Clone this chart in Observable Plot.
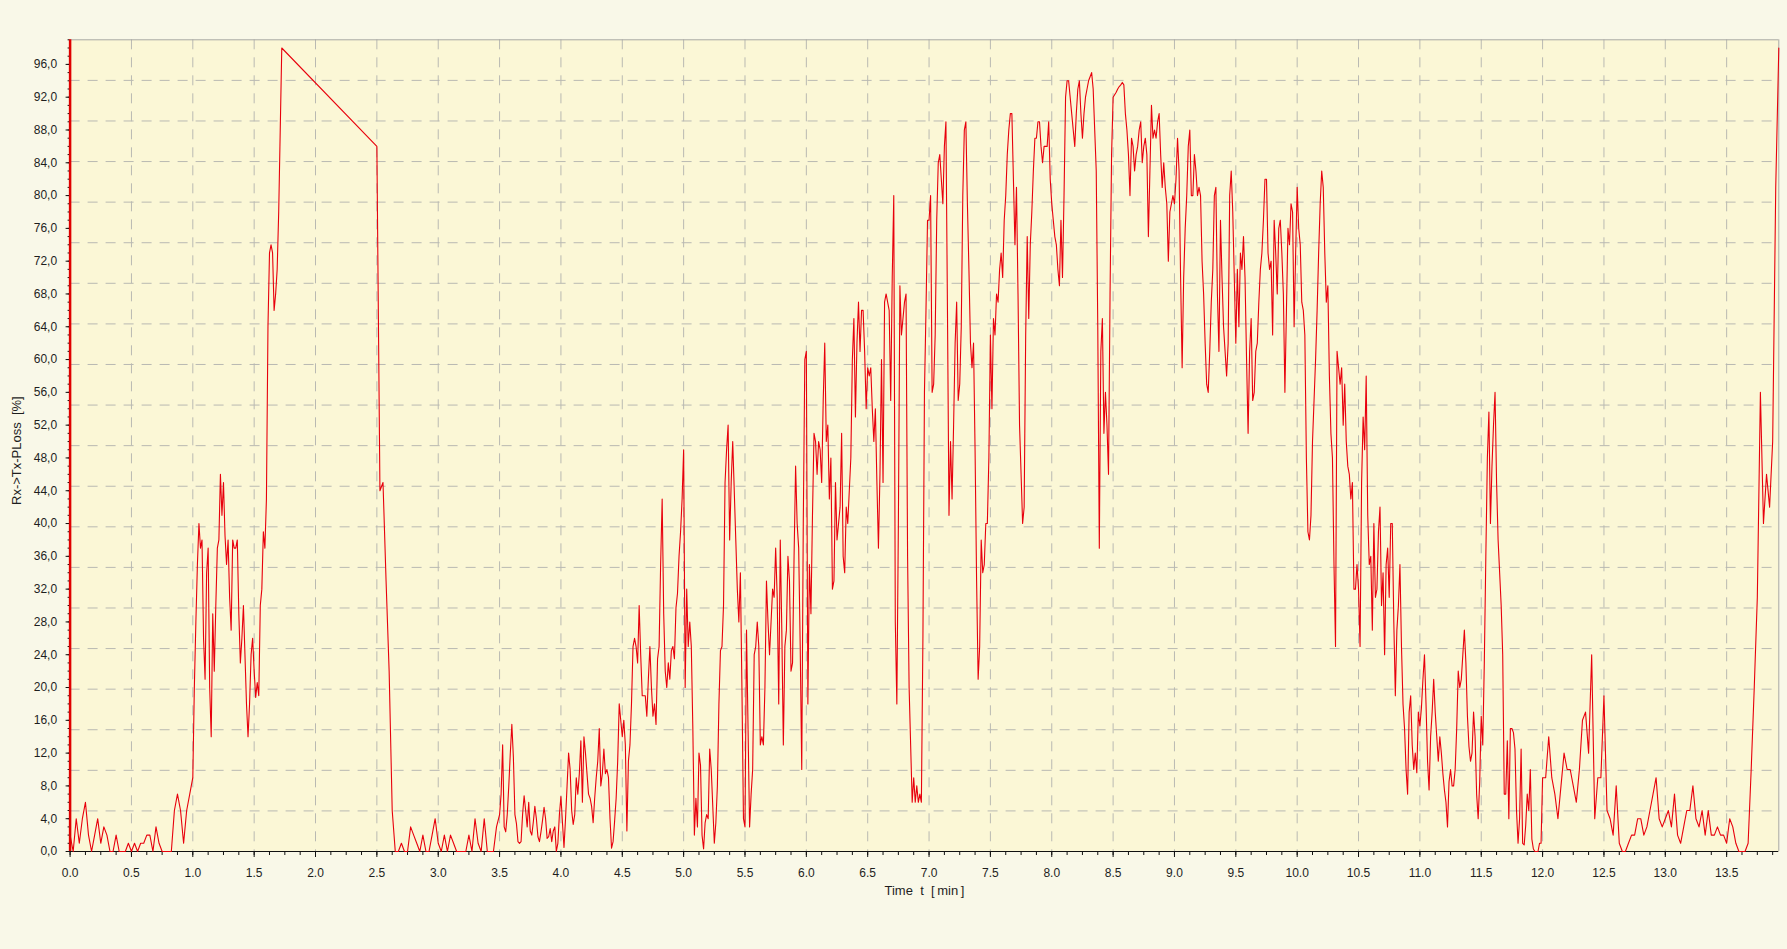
<!DOCTYPE html>
<html>
<head>
<meta charset="utf-8">
<script src="https://cdn.jsdelivr.net/npm/d3@7"></script>
<script src="https://cdn.jsdelivr.net/npm/@observablehq/plot@0.6"></script>
<style>
  html, body { margin: 0; padding: 0; background: #f9f8e8; }
  #chart { width: 1787px; height: 949px; }
</style>
</head>
<body>
<div id="chart"></div>
<script>
// ---- data: Rx->Tx-PLoss in %, read off the reference; each block is sampled at a fixed step (min) ----
// block A: 0.000 - 0.975, step 0.025
const lossA = [
  2,0,4,1,4,6,2,0,2,4,1,3,2,0,0,2,0,0,0,1,
  0,1,0,1,1,2,2,0,3,1,0,0,0,0,5,7,5,1,5,7
];
// block B: 1.000 - 1.725, step 0.0125
const lossB = [
  9,20,28,35,40,37,38,26,21,34,
  37,20,14,29,22,30,37,38,46,41,
  45,38.5,35,38,31,27,38,37,37,38,
  29,23,26,30,24,18,14,18,24,26,
  22,18.8,20.6,19,30,32,39,37,43,64,
  73,74,73,66,68,71,78,88,98
];
// (no samples between 1.725 and 2.5)
// block C: 2.500 - 3.475, step 0.025
const lossC = [
  86,44,45,33,22,5,0,0,1,0,0,3,2,1,0,2,0,0,2,4,
  1,0,2,0,2,1,0,0,0,0,2,0,4,1,0,4,0,0,0,3
];
// block D: 3.500 - 11.9875, step 0.0125
const lossD = [
  // 3.5
  4.5,7,13,3,2.4,4.5,8,12,15.5,11.5, 4.5,3.4,1.2,1,1.2,4.5,6.8,5,3,6,
  2.5,2,3.6,5.5,4,1.8,1.2,2.4,3.8,5.4, 4,1.6,1.8,2.8,1.2,2.5,3,0,1,4.5,
  // 4.0
  6.7,3.5,0.5,4,8,12,10,5,3.3,4.5, 9,7,9.5,13.5,6,14,12,9.5,7,6.5,
  5.5,3.5,6.5,9,11,15,8,9.5,12.5,9.5, 10,9,4,0.4,1.2,3.7,6.5,11,18,16,
  // 4.5
  14,16,13,2.5,11,13,18,25,26,25, 23,30,24,19,19,19,16.5,21,25,20,
  16.5,18,15.5,23.5,25,35,43,29,22,20, 23,21,24.5,25,23.5,29.7,31.5,36,39,43,
  // 5.0
  49,20,32,25,28,25,15,2,6.5,3, 12,10.5,2,0.3,3.5,4.5,4,12.5,10,5.5,
  1,3.5,8,18,24.5,25,30,45,49,52, 38,45,50,44,38,32,28,34,20,4,
  // 5.5
  3,27,15,3,7,10,24,25,28,25, 13,14,13,20,33,28,24,28,32,31,
  37,31,18,38,27,13,25,27,36,33, 22,23,36,47,40,37,25,10,40,60,
  // 6.0
  61,18,35,29,41,51,50,46,50,49, 45,55,62,50,52,43,48,32,33,45,
  38,40,42,51,36,34,42,40,44,48, 60,65,53,62,67,61,66,66,61,54,
  // 6.5
  59,58,59,54,50,54,45,37,46,60, 45,67,68,67,66,55,70,80,28,18,
  40,69,63,65,67,68,36,20,13,6, 9,6,8,6,7,6,26,56,66,77,
  // 7.0
  77,80,56,57,63,77,84,85,82,79, 86,89,66,41,50,43,52,62,67,55,
  57,64,80,88,89,79,71,62,59,62, 49,33,21,25,38,34,35,40,40,48,
  // 7.5
  63,54,65,63,68,67,71,73,70,77, 80,85,88,90,90,82,74,81,68,52,
  46,40,42,63,75,65,74,78,83,87, 87,89,89,86,84,86,86,86,89,82,
  // 8.0
  79,77,75,74,71,69,77,70,80,92, 94,94,92,90,88,86,90,93,94,90,
  87,90,92,93,94,94.5,95,93,88,83, 64,37,61,65,51,56,52,46,68,85,
  // 8.5
  92,92.3,92.6,93,93.3,93.5,93.8,93.5,90,88, 85,80,87,86,83,85,86,88,89,84,
  86,87,85,75,83,91,87,88,87,89, 90,85,81,84,81,79,72,78,79,80,
  // 9.0
  79,82,87,83,70,59,70,76,80,86, 88,80,80,85,83,80,81,80,72,68,
  62,57,56,61,67,71,80,81,68,61, 77,70,64,61,58,62,80,83,78,70,
  // 9.5
  62,71,64,73,71,75,70,60,51,61, 65,55,56,61,62,67,71,73,77,82,
  82,73,71,72,63,77,73,68,76,77, 73,68,56,66,76,74,79,78,64,73,
  // 10.0
  81,76,74,67,66,63,48,39,38,41, 50,55,60,66,73,79,83,81,73,67,
  69,58,51,48,35,25,61,59,57,59, 52,57,50,47,46,43,45,32,32,35,
  // 10.5
  32,25,45,53,49,58,41,35,36,27, 40,31,32,39,42,30,34,24,35,37,
  31,40,40,28,19,27,30,35,25,18, 15,10,7,17,19,13,10,12,9.6,17,
  // 11.0
  15.3,17.5,21,24,18,11,7.5,14,17,21, 17,14,11,14,12,9.5,7.5,6,3,8.5,
  10,8,8,10,15,22,20,21,24,27, 23,16.5,12.8,11,12,17,14,7,4,8.5,
  // 11.5
  16.5,13,23,36,48,53.6,40,47,52,56, 45,38,34,30,24,7,7,13.5,4,15,
  15,14.5,12.5,5,1,4,12.5,1,0.8,3.2, 7,5,10,1.5,0.3,0,0,0,1,1
];
// block E: 12.000 - 13.925, step 0.025
const lossE = [
  9,9,14,9,7,4,8,12,10,10,8,6,10,16,17,12,24,4,9,9,
  19,5,4,2,8,1,0,0,1,2,2,4,4,2,3,5,7,9,4,3,
  4,5,3,7,2,1,3,5,5,8,4,3,5,2,5,2,2,3,2,2,
  1,4,3,1,0,0,0,1,10,20,31,56,40,46,42,50,81,98
];
const blockStarts = [0, 1.0, 2.5, 3.5, 12.0];
const blockSteps  = [0.025, 0.0125, 0.025, 0.0125, 0.025];

const yTickValues = [0,4,8,12,16,20,24,28,32,36,40,44,48,52,56,60,64,68,72,76,80,84,88,92,96];
const xTickValues = [0,0.5,1,1.5,2,2.5,3,3.5,4,4.5,5,5.5,6,6.5,7,7.5,8,8.5,9,9.5,10,10.5,11,11.5,12,12.5,13,13.5];
const xTitle = "Time\u00a0\u00a0t\u00a0\u00a0[\u2009min\u2009]";
const yTitle = "Rx->Tx-PLoss\u00a0\u00a0[%]";

// ---- build ----
const blocks = [lossA, lossB, lossC, lossD, lossE];
const points = blocks.flatMap((vals, b) =>
  vals.map((v, i) => ({t: blockStarts[b] + i * blockSteps[b], v}))
);

const X_MAX = 13.925, Y_MAX = 99;
const gridY = d3.range(1, 20).map(i => i * Y_MAX / 20);
const gridX = xTickValues.filter(d => d > 0);
const minorX = d3.range(0, X_MAX, 0.125);
const minorY = d3.range(0, 100, 1);

const gridColor = "#b9b9b2";
const font = "'Liberation Sans', Arial, sans-serif";

const chart = Plot.plot({
  width: 1787,
  height: 949,
  marginLeft: 69.6,
  marginRight: 8.7,
  marginTop: 39.3,
  marginBottom: 98,
  style: {background: "transparent", fontFamily: font, fontSize: "12px", color: "#1e1e1e"},
  x: {domain: [0, X_MAX], label: null},
  y: {domain: [0, Y_MAX], label: null},
  marks: [
    Plot.frame({fill: "#fbf7d6", stroke: null}),
    Plot.ruleY(gridY, {stroke: gridColor, strokeWidth: 1, strokeDasharray: "10,8"}),
    Plot.ruleX(gridX, {stroke: gridColor, strokeWidth: 1, strokeDasharray: "10,8"}),
    Plot.ruleY([Y_MAX], {stroke: "#a8a8a4", strokeWidth: 1}),
    Plot.ruleX([X_MAX], {stroke: "#a8a8a4", strokeWidth: 1}),
    Plot.axisX({ticks: minorX, tickSize: 4, tickFormat: () => "", label: null, stroke: "#111"}),
    Plot.axisX({ticks: xTickValues, tickSize: 6, tickPadding: 11, tickFormat: d => d.toFixed(1), label: null, stroke: "#111", fontSize: 12}),
    Plot.axisY({ticks: minorY, tickSize: 2, tickFormat: () => "", label: null, stroke: "#111"}),
    Plot.axisY({ticks: yTickValues, tickSize: 4, tickPadding: 9, tickFormat: d => d.toFixed(1).replace(".", ","), label: null, stroke: "#111", fontSize: 12}),
    Plot.ruleY([0], {stroke: "#111", strokeWidth: 1}),
    Plot.line(points, {x: "t", y: "v", stroke: "#e8000c", strokeWidth: 1.1}),
    Plot.ruleX([0], {stroke: "#e00000", strokeWidth: 2.5}),
    Plot.text([xTitle], {frameAnchor: "bottom", lineAnchor: "middle", textAnchor: "middle", dy: 39, text: d => d, fontSize: 13, fill: "#1e1e1e"}),
    Plot.text([yTitle], {frameAnchor: "left", lineAnchor: "middle", textAnchor: "middle", dx: -53.6, dy: 5, rotate: -90, text: d => d, fontSize: 13, fill: "#1e1e1e"})
  ]
});
document.getElementById("chart").append(chart);
</script>
</body>
</html>
